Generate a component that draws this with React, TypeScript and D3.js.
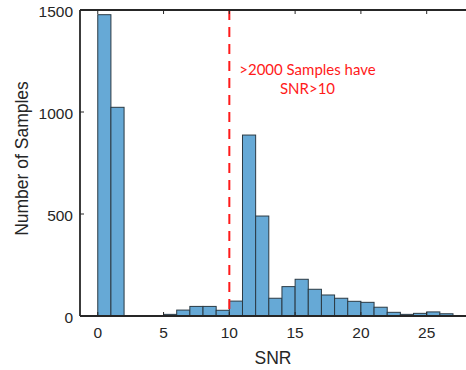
import React from "react";
import * as d3 from "d3";

const binStarts = [0,1,2,3,4,5,6,7,8,9,10,11,12,13,14,15,16,17,18,19,20,21,22,23,24,25,26];
const counts = [1477,1023,0,0,0,8,29,47,47,28,73,887,490,87,144,180,131,103,87,72,67,43,18,8,13,20,11];
const xTicks = [0,5,10,15,20,25];
const yTicks = [0,500,1000,1500];
const thresholdValue = 10;
const annotationLines = [">2000 Samples have", "SNR>10"];

const W = 466, H = 370;
const left = 80, top = 10, bottom = 316, right = 478;

export default function App() {
  const x = d3.scaleLinear().domain([-1.35, 28.9]).range([left, right]);
  const y = d3.scaleLinear().domain([0, 1500]).range([bottom, top]);
  const axisColor = "#262626";
  return (
    <svg width={W} height={H} style={{ position: "absolute", left: 0, top: 0 }}>
      <rect x={0} y={0} width={W} height={H} fill="#fff" />
      {binStarts.map((b, i) => counts[i] > 0 && (
        <rect key={i} x={x(b)} y={y(counts[i])} width={x(b + 1) - x(b)} height={y(0) - y(counts[i])}
          fill="#66a9d6" stroke="#2b3a44" strokeWidth={1} />
      ))}
      <line x1={x(thresholdValue)} x2={x(thresholdValue)} y1={top} y2={bottom} stroke="#ff1a1a" strokeWidth={2} strokeDasharray="10,7" />
      {annotationLines.map((t, i) => (
        <text key={i} x={307.5} y={75 + i * 18.5} textAnchor="middle" fill="#ff1a1a"
          style={{ fontFamily: "Lato, 'Open Sans', sans-serif", fontSize: 15 }}>{t}</text>
      ))}
      <line x1={left} x2={right} y1={bottom} y2={bottom} stroke={axisColor} strokeWidth={1.8} />
      <line x1={left} x2={right} y1={top} y2={top} stroke={axisColor} strokeWidth={1.8} />
      <line x1={left} x2={left} y1={top} y2={bottom} stroke={axisColor} strokeWidth={1.8} />
      {xTicks.map(t => (
        <g key={t}>
          <line x1={x(t)} x2={x(t)} y1={bottom} y2={bottom - 4} stroke={axisColor} strokeWidth={1} />
          <line x1={x(t)} x2={x(t)} y1={top} y2={top + 4} stroke={axisColor} strokeWidth={1} />
          <text x={x(t)} y={338} textAnchor="middle" fill={axisColor}
            style={{ fontFamily: "'Liberation Sans', Arial, sans-serif", fontSize: 15.5 }}>{t}</text>
        </g>
      ))}
      {yTicks.map(t => (
        <g key={t}>
          <line x1={left} x2={left + 4} y1={y(t)} y2={y(t)} stroke={axisColor} strokeWidth={1} />
          <text x={73} y={y(t) + 7} textAnchor="end" fill={axisColor}
            style={{ fontFamily: "'Liberation Sans', Arial, sans-serif", fontSize: 15.5 }}>{t}</text>
        </g>
      ))}
      <text x={273} y={364} textAnchor="middle" fill={axisColor}
        style={{ fontFamily: "'Liberation Sans', Arial, sans-serif", fontSize: 17.5 }}>SNR</text>
      <text transform={`translate(28,${(80+237)/2}) rotate(-90)`} textAnchor="middle" fill={axisColor}
        style={{ fontFamily: "'Liberation Sans', Arial, sans-serif", fontSize: 17.5 }}>Number of Samples</text>
    </svg>
  );
}
